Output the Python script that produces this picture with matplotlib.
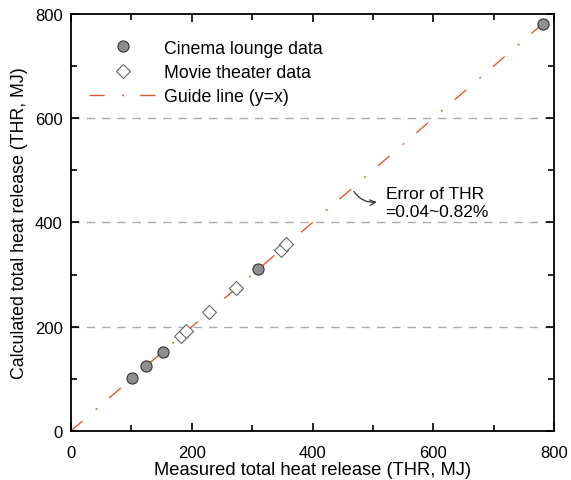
import matplotlib.pyplot as plt
from matplotlib.ticker import MultipleLocator

plt.rcParams['font.family'] = ['Liberation Sans', 'DejaVu Sans']

# (MJ)
cinema_measured = [101, 125, 152, 310, 782]
cinema_calc = [102, 125, 152, 311, 781]
theater_measured = [183, 191, 228, 274, 348, 356]
theater_calc = [182, 191, 228, 274, 348, 358]
guide = [0, 800]

fig = plt.figure(figsize=(5.71, 4.81), dpi=100)
ax = fig.add_axes([0.1243, 0.1019, 0.8460, 0.8670])

for yv in [200, 400, 600]:
    ax.axhline(yv, color='#aaaaaa', lw=1, dashes=(6, 5), zorder=1)

ax.plot(cinema_measured, cinema_calc, 'o', ms=8, mfc='#8f8f8f', mec='#333333',
        mew=0.8, ls='none', label='Cinema lounge data', zorder=3)
ax.plot(theater_measured, theater_calc, 'D', ms=7, mfc='white', mec='#666666',
        mew=0.8, ls='none', label='Movie theater data', zorder=3)
ax.plot(guide, guide, color='#e4572e', lw=1, dashes=(11, 12.5, 1.5, 11.5),
        label='Guide line (y=x)', zorder=2)

ax.annotate('', xy=(511, 440), xytext=(466, 464),
            arrowprops=dict(arrowstyle='->', color='#333333', lw=0.9,
                            connectionstyle='arc3,rad=0.35'))
ax.text(521, 438, 'Error of THR\n=0.04~0.82%', fontsize=12.5, va='center',
        ha='left', linespacing=1.3)

ax.set_xlim(0, 800)
ax.set_ylim(0, 800)
ax.xaxis.set_major_locator(MultipleLocator(200))
ax.xaxis.set_minor_locator(MultipleLocator(100))
ax.yaxis.set_major_locator(MultipleLocator(200))
ax.yaxis.set_minor_locator(MultipleLocator(100))
ax.tick_params(which='both', direction='in', top=True, right=True, labelsize=12)
ax.tick_params(which='major', length=6, width=1.2)
ax.tick_params(which='minor', length=4, width=1.2)
ax.tick_params(axis='x', which='major', pad=10)
ax.tick_params(axis='y', which='major', pad=6)
for s in ax.spines.values():
    s.set_linewidth(1.3)

ax.set_xlabel('Measured total heat release (THR, MJ)', fontsize=13.2, labelpad=1)
ax.set_ylabel('Calculated total heat release (THR, MJ)', fontsize=12.8, labelpad=5)

ax.legend(loc='upper left', frameon=False, fontsize=12.8, handlelength=3.8,
          handletextpad=0.4, borderaxespad=0.5, labelspacing=0.42,
          bbox_to_anchor=(0.004, 0.977))

fig.savefig('out.png', dpi=100)
